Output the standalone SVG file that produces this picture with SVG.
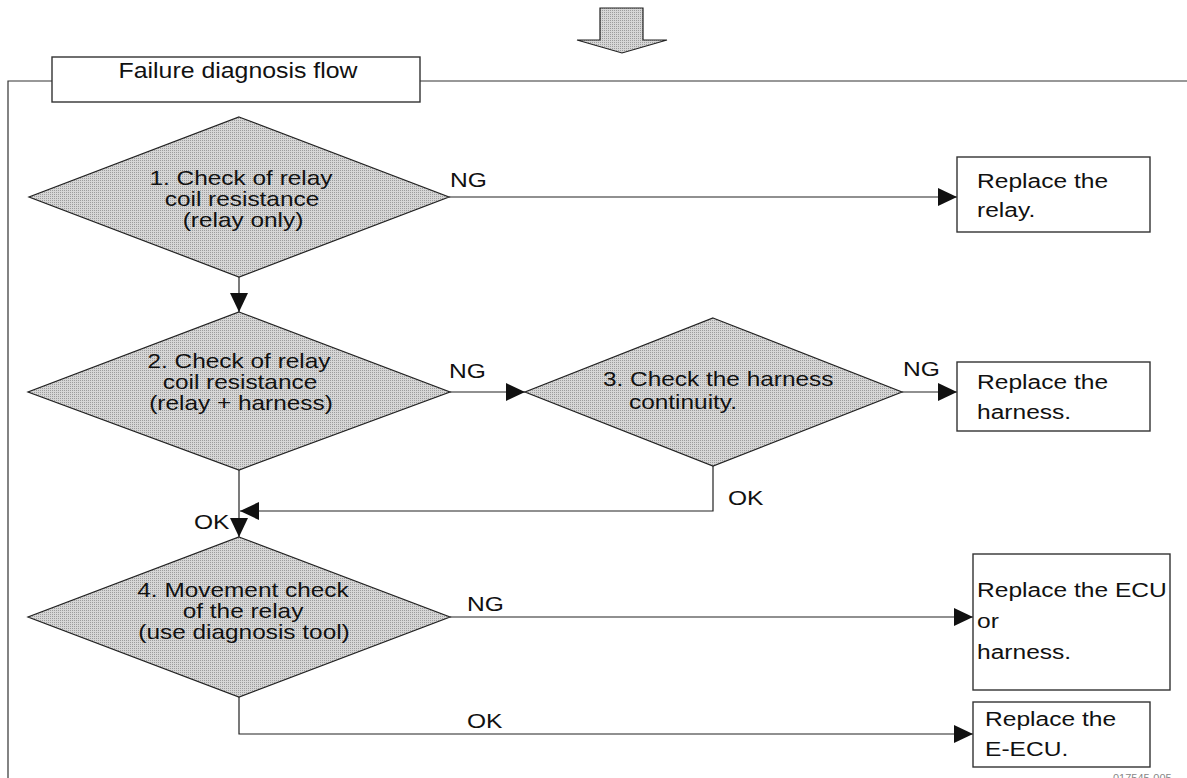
<svg xmlns="http://www.w3.org/2000/svg" width="1187" height="778" viewBox="0 0 1187 778">
<style>
.t{font-family:"Liberation Sans",Arial,sans-serif;font-size:21px;fill:#111}
.d{font-family:"Liberation Sans",Arial,sans-serif;font-size:20px;fill:#111}
.c{text-anchor:middle}
.ttl{font-family:"Liberation Sans",Arial,sans-serif;font-size:22px;fill:#111;text-anchor:middle}
.ln{fill:none;stroke:#222;stroke-width:1.2}
.fr{fill:none;stroke:#333;stroke-width:1.2}
.dia{fill:url(#dots);stroke:#222;stroke-width:1.2}
.box{fill:#fff;stroke:#333;stroke-width:1.4}
.wm{font-family:"Liberation Sans",Arial,sans-serif;font-size:11px;fill:#888}
</style>
<defs>
<pattern id="dots" width="2" height="2" patternUnits="userSpaceOnUse">
<rect width="2" height="2" fill="#d6d6d6"/>
<rect width="1" height="1" fill="#9c9c9c"/>
</pattern>
<marker id="ah" markerUnits="userSpaceOnUse" markerWidth="20" markerHeight="18" refX="19" refY="9" orient="auto">
<path d="M0,0 L19,9 L0,18 Z" fill="#111"/>
</marker>
</defs>
<rect width="1187" height="778" fill="#fff"/>

<g id="top-arrow">
<path d="M600,8 H643 V40 H667 L622,53 L577,40 H600 Z" fill="url(#dots)" stroke="#222" stroke-width="1.2"/>
</g>

<g id="frame">
<path class="fr" d="M8,778 V81 H52 M420,81 H1187"/>
<rect class="box" x="52" y="57" width="368" height="45"/>
<text class="ttl" transform="translate(238,78) scale(1.13,1)">Failure diagnosis flow</text>
</g>

<g id="connectors">
<path class="ln" d="M449,197 H957" marker-end="url(#ah)"/>
<path class="ln" d="M239,277 V312" marker-end="url(#ah)"/>
<path class="ln" d="M450,392 H525" marker-end="url(#ah)"/>
<path class="ln" d="M902,392 H957" marker-end="url(#ah)"/>
<path class="ln" d="M713,466 V511 H240" marker-end="url(#ah)"/>
<path class="ln" d="M239,470 V537" marker-end="url(#ah)"/>
<path class="ln" d="M450,617 H973" marker-end="url(#ah)"/>
<path class="ln" d="M239,697 V734 H973" marker-end="url(#ah)"/>
<text class="t" transform="translate(450,187) scale(1.17,1)">NG</text>
<text class="t" transform="translate(449,378) scale(1.17,1)">NG</text>
<text class="t" transform="translate(903,376) scale(1.17,1)">NG</text>
<text class="t" transform="translate(728,505) scale(1.17,1)">OK</text>
<text class="t" transform="translate(194,529) scale(1.17,1)">OK</text>
<text class="t" transform="translate(467,611) scale(1.17,1)">NG</text>
<text class="t" transform="translate(467,728) scale(1.17,1)">OK</text>
</g>

<g id="d1">
<polygon class="dia" points="239,117 449,197 239,277 29,197"/>
<text class="d c" transform="translate(241,185) scale(1.22,1)">1. Check of relay</text>
<text class="d c" transform="translate(242,206) scale(1.22,1)">coil resistance</text>
<text class="d c" transform="translate(243,227) scale(1.22,1)">(relay only)</text>
</g>

<g id="d2">
<polygon class="dia" points="239,312 450,392 239,470 28,392"/>
<text class="d c" transform="translate(239,368) scale(1.22,1)">2. Check of relay</text>
<text class="d c" transform="translate(240,389) scale(1.22,1)">coil resistance</text>
<text class="d c" transform="translate(241,410) scale(1.22,1)">(relay + harness)</text>
</g>

<g id="d3">
<polygon class="dia" points="713,318 902,392 713,466 525,392"/>
<text class="d" transform="translate(603,386) scale(1.22,1)">3. Check the harness</text>
<text class="d" transform="translate(629,409) scale(1.22,1)">continuity.</text>
</g>

<g id="d4">
<polygon class="dia" points="239,537 450,617 239,697 28,617"/>
<text class="d c" transform="translate(243,597) scale(1.22,1)">4. Movement check</text>
<text class="d c" transform="translate(243,618) scale(1.22,1)">of the relay</text>
<text class="d c" transform="translate(244,639) scale(1.22,1)">(use diagnosis tool)</text>
</g>

<g id="b1">
<rect class="box" x="957" y="157" width="193" height="75"/>
<text class="t" transform="translate(977,188) scale(1.17,1)">Replace the</text>
<text class="t" transform="translate(977,217) scale(1.17,1)">relay.</text>
</g>

<g id="b2">
<rect class="box" x="957" y="362" width="193" height="69"/>
<text class="t" transform="translate(977,389) scale(1.17,1)">Replace the</text>
<text class="t" transform="translate(977,419) scale(1.17,1)">harness.</text>
</g>

<g id="b3">
<rect class="box" x="973" y="554" width="197" height="136"/>
<text class="t" transform="translate(977,597) scale(1.17,1)">Replace the ECU</text>
<text class="t" transform="translate(977,628) scale(1.17,1)">or</text>
<text class="t" transform="translate(977,659) scale(1.17,1)">harness.</text>
</g>

<g id="b4">
<rect class="box" x="973" y="702" width="177" height="65"/>
<text class="t" transform="translate(985,726) scale(1.17,1)">Replace the</text>
<text class="t" transform="translate(985,756) scale(1.17,1)">E-ECU.</text>
</g>

<text class="wm" x="1113" y="782">017545-005</text>
</svg>
